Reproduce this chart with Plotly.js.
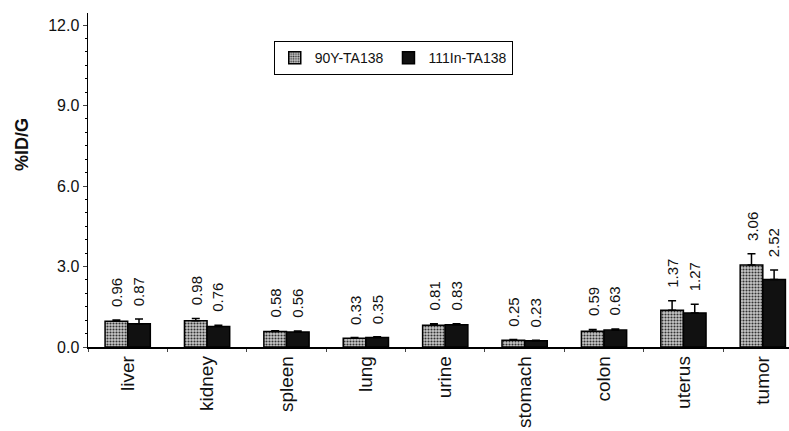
<!DOCTYPE html>
<html><head><meta charset="utf-8">
<script src="https://cdn.plot.ly/plotly-3.0.1.min.js"></script>
<style>body{margin:0;background:#fff}#c{width:789px;height:431px}</style>
</head><body><div id="c"></div>
<script>
const categories = ["liver","kidney","spleen","lung","urine","stomach","colon","uterus","tumor"];
const y90 = [0.96,0.98,0.58,0.33,0.81,0.25,0.59,1.37,3.06];
const y90err = [0.05,0.08,0.03,0.02,0.06,0.03,0.06,0.35,0.42];
const in111 = [0.87,0.76,0.56,0.35,0.83,0.23,0.63,1.27,2.52];
const in111err = [0.17,0.05,0.04,0.03,0.04,0.02,0.04,0.32,0.35];
const yTicks = [0,3,6,9,12];
const yTickText = ["0.0","3.0","6.0","9.0","12.0"];

const font = "Liberation Sans, Arial, sans-serif";
const traces = [
  {type:"bar", name:"90Y-TA138", x:categories, y:y90,
   error_y:{type:"data", array:y90err, symmetric:false, arrayminus:y90.map(()=>0), color:"#000", thickness:1.5, width:4},
   marker:{color:"#bdbdbd", line:{color:"#000", width:1.5}, pattern:{shape:".", fgcolor:"#333", bgcolor:"#c8c8c8", size:3, solidity:0.4}}},
  {type:"bar", name:"111In-TA138", x:categories, y:in111,
   error_y:{type:"data", array:in111err, symmetric:false, arrayminus:in111.map(()=>0), color:"#000", thickness:1.5, width:4},
   marker:{color:"#111", line:{color:"#000", width:1.5}}}
];
const annotations = [];
categories.forEach((c,i)=>{
  annotations.push({x:c, xshift:-11, y:y90[i]+y90err[i], yref:"y", text:y90[i].toFixed(2), textangle:-90, showarrow:false, yanchor:"bottom", yshift:11, font:{family:font,size:15,color:"#111"}});
  annotations.push({x:c, xshift:11, y:in111[i]+in111err[i], yref:"y", text:in111[i].toFixed(2), textangle:-90, showarrow:false, yanchor:"bottom", yshift:11, font:{family:font,size:15,color:"#111"}});
});
annotations.push({xref:"paper", yref:"paper", x:-0.094, y:0.605, text:"<b>%ID/G</b>", textangle:-90, showarrow:false, xanchor:"center", yanchor:"middle", font:{family:font,size:18,color:"#111"}});
const layout = {
  width:789, height:431,
  margin:{l:88, r:0, t:13, b:84},
  paper_bgcolor:"#fff", plot_bgcolor:"#fff",
  font:{family:font, color:"#111"},
  barmode:"group", bargap:0.43, bargroupgap:0,
  showlegend:true,
  legend:{orientation:"h", x:0.265, y:0.865, xanchor:"left", yanchor:"middle", bordercolor:"#000", borderwidth:1, font:{size:14,family:font}, bgcolor:"#fff", itemwidth:30, tracegroupgap:0},
  xaxis:{type:"category", range:[-0.5,8.33], showline:true, linecolor:"#000", linewidth:1.5, ticks:"outside", ticklen:3, tickson:"boundaries", tickangle:-90, tickfont:{size:19,family:font,color:"#111"}, showgrid:false, zeroline:false},
  yaxis:{range:[0,12.45], showline:true, linecolor:"#000", linewidth:1.5, ticks:"outside", ticklen:4, tickvals:yTicks, ticktext:yTickText, tickfont:{size:16,family:font,color:"#111"}, showgrid:false, zeroline:false,
    minor:{dtick:0.5, ticks:"outside", ticklen:2, tickcolor:"#000", showgrid:false}},
  annotations:annotations
};
Plotly.newPlot("c", traces, layout, {displayModeBar:false, staticPlot:true});
</script></body></html>
